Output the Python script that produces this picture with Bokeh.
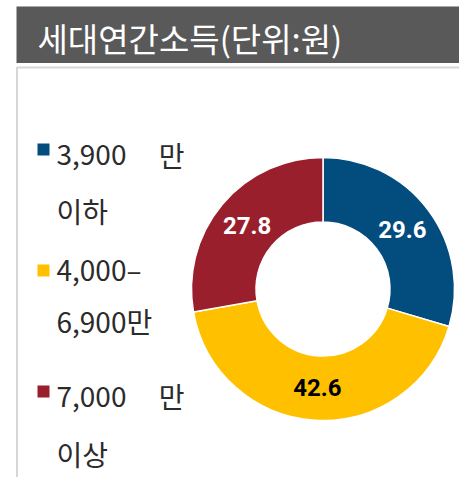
import numpy as np
from bokeh.plotting import figure
from bokeh.models import Range1d, ColumnDataSource
from bokeh.core.properties import value
from bokeh.embed import file_html
from bokeh.resources import INLINE

# ---- data ----
title_text = "세대연간소득(단위:원)"
categories = ["3,900 만 이하", "4,000–6,900만", "7,000 만 이상"]
shares = [29.6, 42.6, 27.8]
colors = ["#024C7E", "#FFC000", "#9A1F2C"]
label_colors = ["white", "black", "white"]
legend_lines = [["3,900", "만"], ["이하"],
                ["4,000–"], ["6,900만"],
                ["7,000", "만"], ["이상"]]

W, H = 459, 477


def sy(y):
    # picture-pixel y -> data y
    return H - np.asarray(y, dtype=float)


p = figure(width=W, height=H, output_backend="svg", toolbar_location=None,
           x_range=Range1d(0, W), y_range=Range1d(0, H),
           x_axis_type=None, y_axis_type=None, min_border=0)
p.grid.visible = False
p.outline_line_color = None
p.background_fill_color = "white"
p.border_fill_color = "white"

KR = value("Noto Sans CJK KR")

# title bar
p.quad(left=16, right=W, top=sy(6), bottom=sy(62.5),
       fill_color="#595959", line_color=None)
p.text(x=[37], y=sy([37.5]), text=[title_text], text_font=KR,
       text_font_size="33px", text_color="white",
       text_align="left", text_baseline="alphabetic")

# frame
p.line(x=[16.5, 16.5, W], y=[sy(H), sy(67), sy(67)],
       line_color="#d6d6d6", line_width=2)

# donut
cx, cy = 322.5, sy(288.5)
vals = np.array(shares)
frac = vals / vals.sum()
cum = np.cumsum(frac)
start = np.pi / 2 - 2 * np.pi * (cum - frac)
end = np.pi / 2 - 2 * np.pi * cum
mid = np.pi / 2 - 2 * np.pi * (cum - frac / 2)
r_in, r_out = 67, 131.5
r_lab = 99
src = ColumnDataSource(dict(
    cat=categories, val=shares, start=start, end=end, color=colors,
    lx=cx + r_lab * np.cos(mid), ly=cy + r_lab * np.sin(mid),
    lab=[f"{v:.1f}" for v in shares], lcol=label_colors))
p.annular_wedge(x=cx, y=cy, inner_radius=r_in, outer_radius=r_out,
                inner_radius_units="screen", outer_radius_units="screen",
                start_angle="start", end_angle="end", direction="clock",
                fill_color="color", line_color="white", line_width=1.5,
                source=src)
p.text(x="lx", y="ly", text="lab", text_color="lcol", source=src,
       text_font=value("Roboto"), text_font_style="bold",
       text_font_size="24px", text_align="center", text_baseline="middle")

# legend
sq_y = [149, 270, 391]
p.rect(x=[43] * 3, y=sy(sq_y), width=12, height=12,
       fill_color=colors, line_color=None)
baselines = [154, 210, 268, 320.5, 395.5, 453]
left_x, right_x = 56, 184
for words, b in zip(legend_lines, baselines):
    p.text(x=[left_x], y=sy([b]), text=[words[0]], text_font=KR,
           text_font_size="28px", text_color="#2b2b2b",
           text_align="left", text_baseline="alphabetic")
    if len(words) > 1:
        p.text(x=[right_x], y=sy([b]), text=[words[-1]], text_font=KR,
               text_font_size="28px", text_color="#2b2b2b",
               text_align="right", text_baseline="alphabetic")

open("out.html", "w").write(file_html(p, INLINE))
